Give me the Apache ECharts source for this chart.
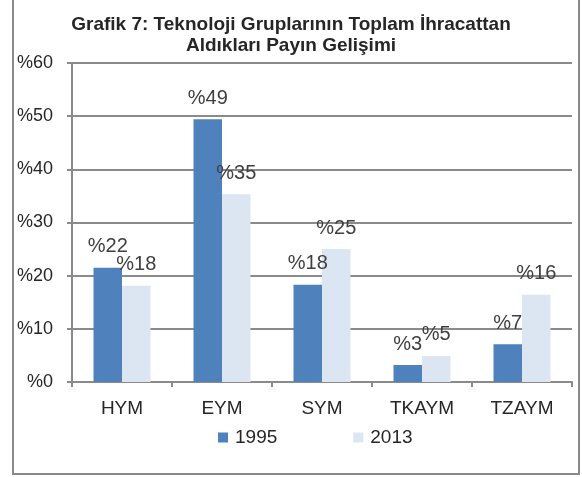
<!DOCTYPE html>
<html>
<head>
<meta charset="utf-8">
<script src="https://cdn.jsdelivr.net/npm/echarts@6/dist/echarts.min.js"></script>
<style>
  html, body { margin: 0; padding: 0; background: #fff; }
  #chart { width: 582px; height: 477px; }
</style>
</head>
<body>
<div id="chart"></div>
<script>
var categories = ['HYM', 'EYM', 'SYM', 'TKAYM', 'TZAYM'];
var seriesNames = ['1995', '2013'];
var values1995 = [21.5, 49.4, 18.3, 3.2, 7.1];
var values2013 = [18.1, 35.3, 25.0, 4.9, 16.4];
var yTicks = [0, 10, 20, 30, 40, 50, 60];

var FONT = '"Liberation Sans", Arial, sans-serif';
var GRID_COLOR = '#8a8a8a';

var chart = echarts.init(document.getElementById('chart'), null, { renderer: 'canvas' });

function barSeries(name, data, color) {
  return {
    name: name,
    type: 'bar',
    data: data,
    barGap: '0%',
    barCategoryGap: '43%',
    itemStyle: { color: color },
    label: {
      show: true,
      position: 'top',
      distance: 11,
      color: '#404040',
      fontFamily: FONT,
      fontSize: 20,
      // Excel-style "%22" labels
      formatter: function (p) { return '%' + Math.round(p.value); }
    }
  };
}

chart.setOption({
  backgroundColor: '#fff',
  animation: false,
  title: {
    text: 'Grafik 7: Teknoloji Gruplarının Toplam İhracattan\nAldıkları Payın Gelişimi',
    left: 'center',
    top: 9,
    textStyle: { fontFamily: FONT, fontWeight: 'bold', fontSize: 19, lineHeight: 21, color: '#262626' }
  },
  graphic: [{
    type: 'rect',
    shape: { x: 13, y: -5, width: 566, height: 479 },
    style: { fill: 'none', stroke: '#8a8a8a', lineWidth: 2 },
    silent: true
  }],
  legend: {
    data: seriesNames,
    left: 213,
    top: 423,
    itemWidth: 10,
    itemHeight: 10,
    itemGap: 76,
    icon: 'rect',
    textStyle: { fontFamily: FONT, fontSize: 19, color: '#262626', padding: [0, 0, 0, 2] }
  },
  grid: { left: 72, right: 10, top: 63, bottom: 95 },
  xAxis: {
    type: 'category',
    data: categories,
    axisLine: { lineStyle: { color: GRID_COLOR, width: 2 } },
    axisTick: { show: true, length: 5, lineStyle: { color: GRID_COLOR, width: 2 } },
    axisLabel: { fontFamily: FONT, fontSize: 19, color: '#262626', margin: 17 }
  },
  yAxis: {
    type: 'value',
    min: 0,
    max: 60,
    interval: 10,
    axisLine: { show: true, lineStyle: { color: GRID_COLOR, width: 2 } },
    axisTick: { show: true, length: 5, lineStyle: { color: GRID_COLOR, width: 2 } },
    splitLine: { lineStyle: { color: GRID_COLOR, width: 2 } },
    axisLabel: {
      fontFamily: FONT, fontSize: 18, color: '#262626', margin: 19,
      formatter: function (v) { return yTicks.indexOf(v) >= 0 ? '%' + v : ''; }
    }
  },
  series: [
    barSeries(seriesNames[0], values1995, '#4f81bd'),
    barSeries(seriesNames[1], values2013, '#dce6f2')
  ]
});
</script>
</body>
</html>
